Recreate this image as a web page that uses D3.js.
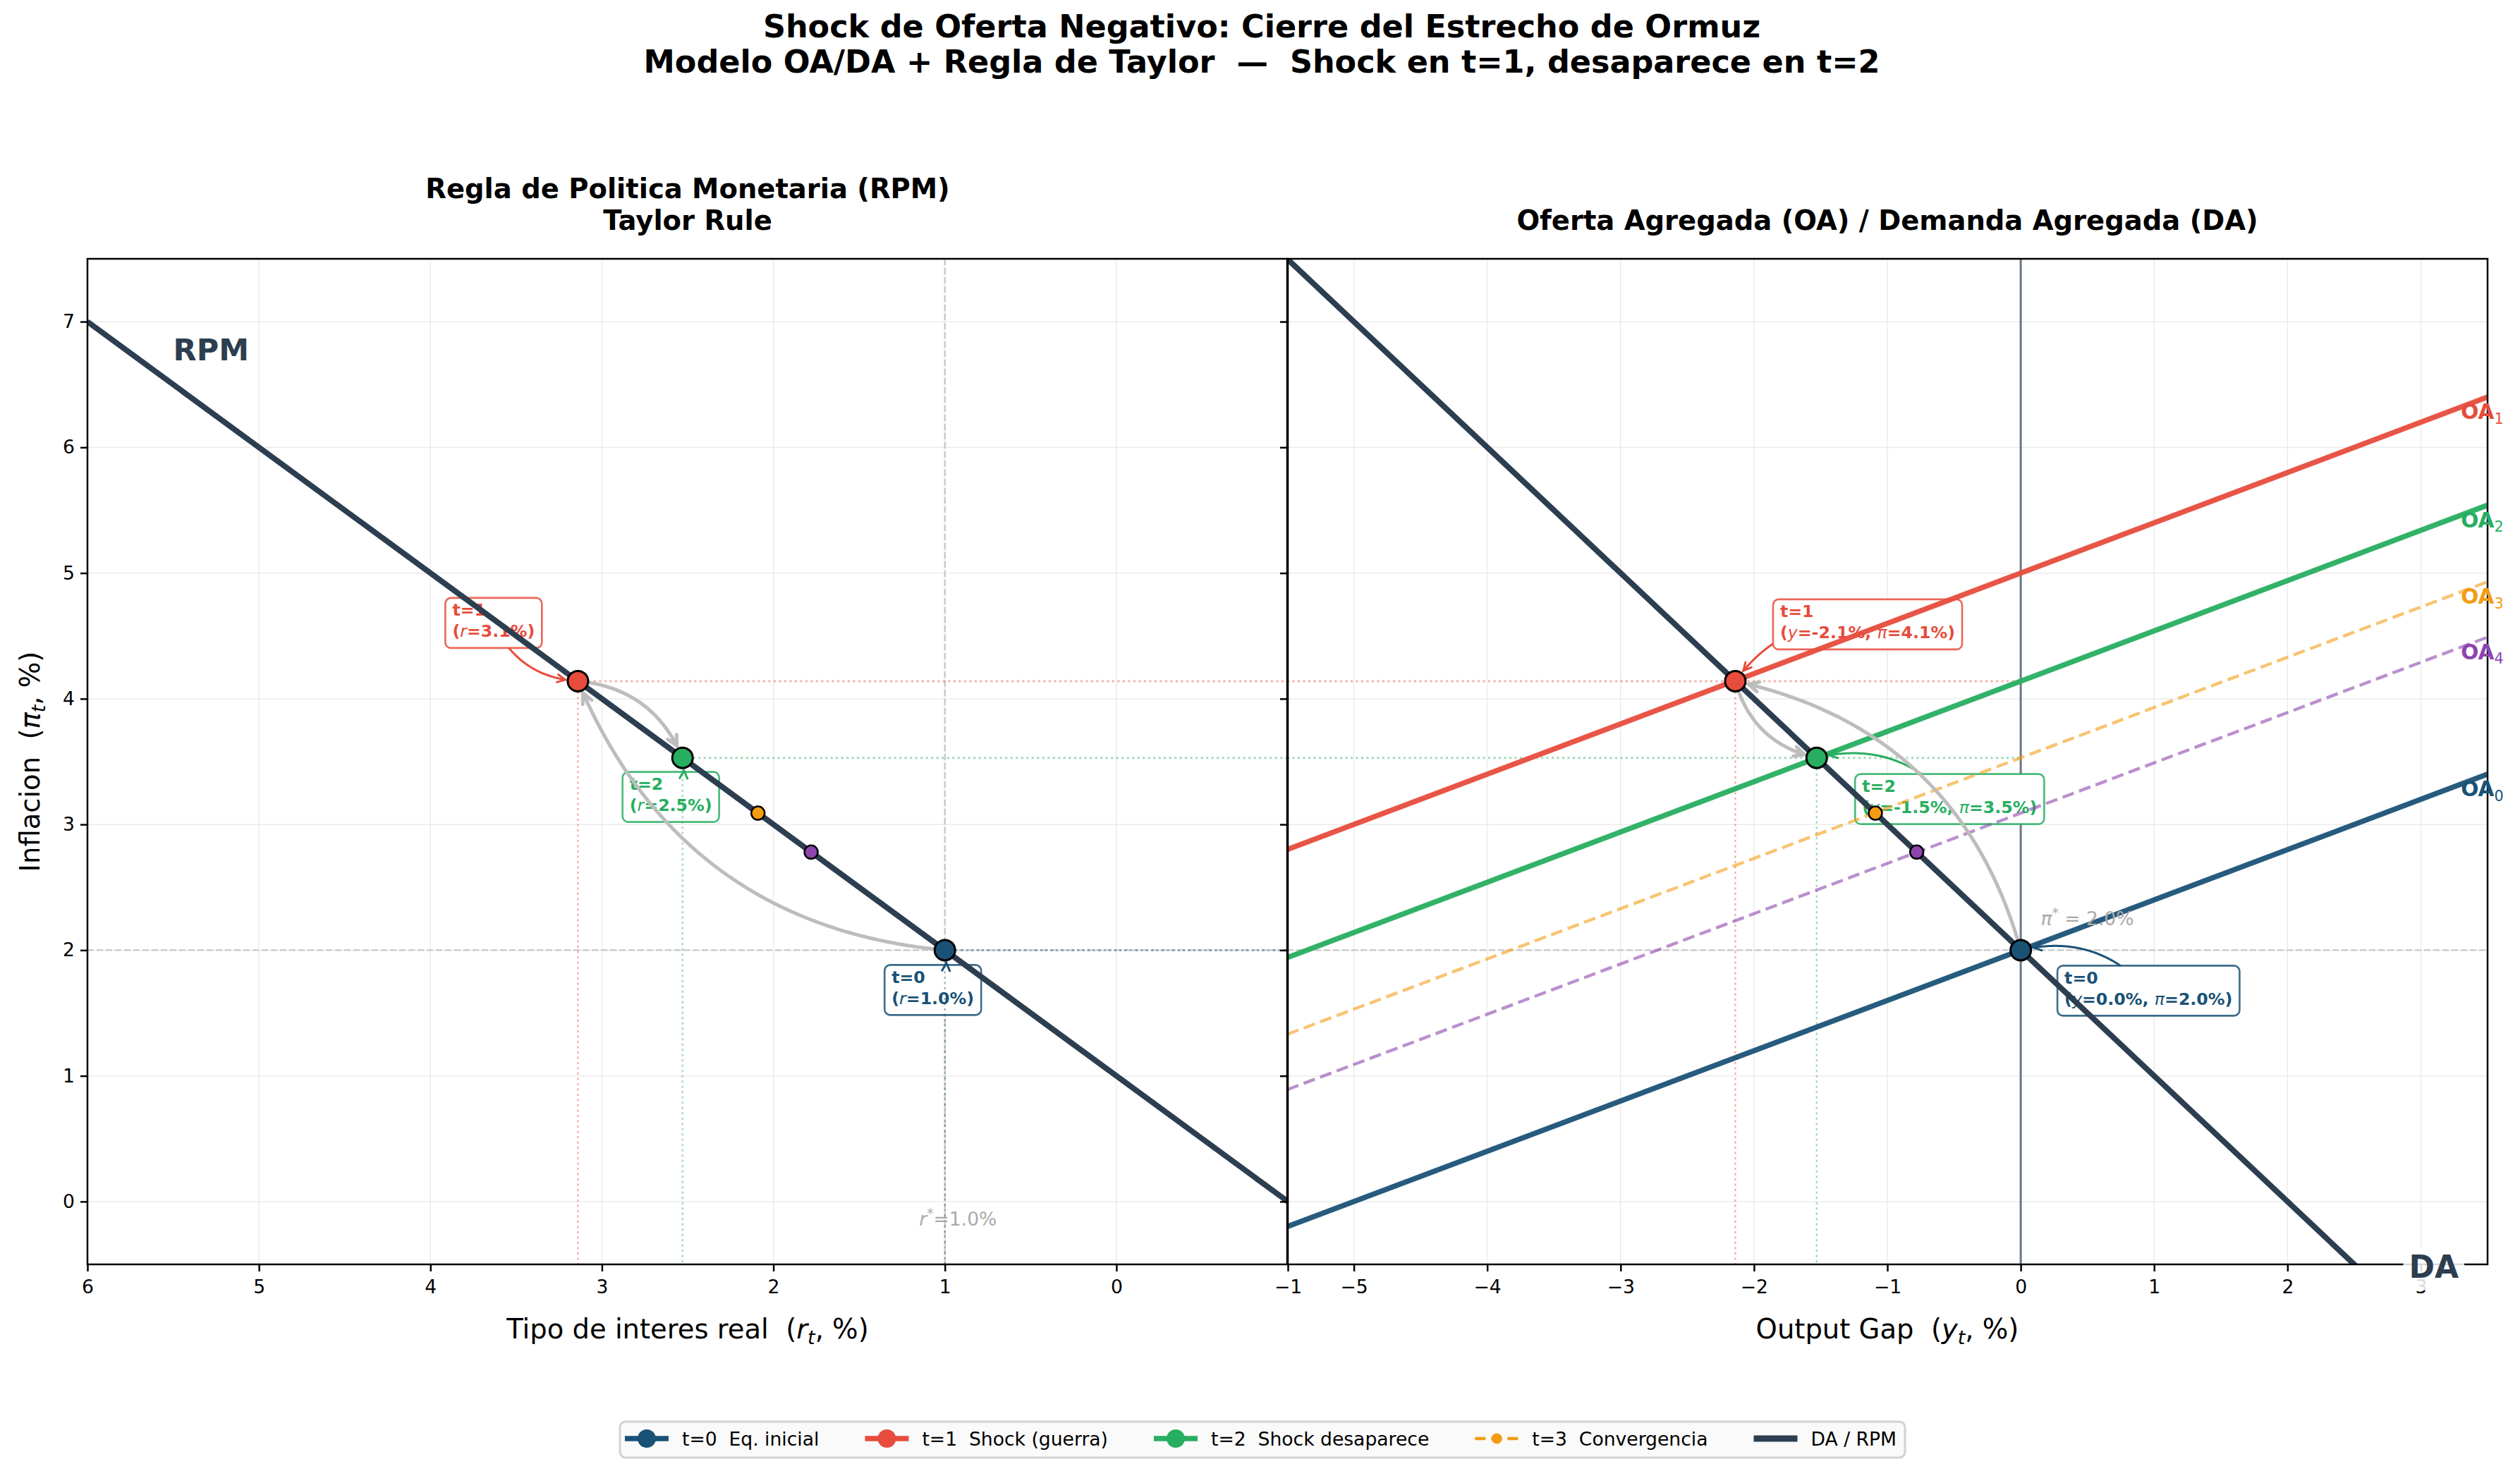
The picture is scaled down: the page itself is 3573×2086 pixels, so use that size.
<!DOCTYPE html>
<html>
<head>
<meta charset="utf-8">
<script src="https://cdn.jsdelivr.net/npm/d3@7"></script>
<style>
  html, body { margin: 0; padding: 0; background: #fff; }
  svg { display: block; font-family: "DejaVu Sans", sans-serif; }
</style>
</head>
<body>
<svg id="chart" width="3573" height="2086"></svg>
<script>
// values
const periods = ["t=0", "t=1", "t=2", "t=3", "t=4"];
const outputGap = [0.0, -2.14, -1.53, -1.09, -0.78];
const inflation = [2.0, 4.14, 3.53, 3.09, 2.78];
const realRate = [1.0, 3.14, 2.53, 2.09, 1.78];
const oaIntercept = [2.0, 5.0, 4.14, 3.53, 3.09];   // OA_t : pi = a_t + 0.4 y
const oaSlope = 0.4;
const daLine = [2.0, -1.0];                         // DA  : pi = 2 - y
const rpmLine = [1.0, 1.0];                         // RPM : pi = 1 + r
const piStar = 2.0;
const rStar = 1.0;
const legendLabels = ["t=0  Eq. inicial", "t=1  Shock (guerra)", "t=2  Shock desaparece", "t=3  Convergencia", "DA / RPM"];
const rTicks = [6, 5, 4, 3, 2, 1, 0, -1];
const yTicks = [-5, -4, -3, -2, -1, 0, 1, 2, 3];
const piTicks = [0, 1, 2, 3, 4, 5, 6, 7];

const colors = ["#1a5276", "#e74c3c", "#27ae60", "#f39c12", "#8e44ad"];
const dark = "#2c3e50";

// keep double spaces visible in svg text
const sp = s => s.replace(/  /g, " \u00a0");

const svg = d3.select("#chart");
svg.append("rect").attr("width", 3573).attr("height", 2086).attr("fill", "#fff");

const xR = d3.scaleLinear().domain([6, -1]).range([124, 1826]);
const xY = d3.scaleLinear().domain([-5.5, 3.5]).range([1825, 3527]);
const yPi = d3.scaleLinear().domain([-0.5, 7.5]).range([1793, 367]);
const line = d3.line();

// text with italic / sub / superscript parts
function rich(sel, parts, size) {
  let shift = 0;
  parts.forEach(p => {
    const target = p.sub ? size * 0.22 : p.sup ? -size * 0.4 : 0;
    const ts = sel.append("tspan").text(sp(p.t));
    if (target !== shift) ts.attr("dy", target - shift);
    shift = target;
    if (p.sub || p.sup) ts.attr("font-size", size * 0.7);
    if (p.i) ts.attr("font-style", "italic");
    if (p.w) ts.attr("font-weight", p.w);
  });
  return sel;
}

// titles
svg.append("text").attr("x", 1789).attr("y", 53).attr("text-anchor", "middle")
  .attr("font-size", 44.5).attr("font-weight", "bold")
  .text("Shock de Oferta Negativo: Cierre del Estrecho de Ormuz");
svg.append("text").attr("x", 1789).attr("y", 103).attr("text-anchor", "middle")
  .attr("font-size", 44.5).attr("font-weight", "bold")
  .text(sp("Modelo OA/DA + Regla de Taylor  \u2014  Shock en t=1, desaparece en t=2"));
svg.append("text").attr("x", 975).attr("y", 281).attr("text-anchor", "middle")
  .attr("font-size", 38.5).attr("font-weight", "bold").text("Regla de Politica Monetaria (RPM)");
svg.append("text").attr("x", 975).attr("y", 326).attr("text-anchor", "middle")
  .attr("font-size", 38.5).attr("font-weight", "bold").text("Taylor Rule");
svg.append("text").attr("x", 2676).attr("y", 326).attr("text-anchor", "middle")
  .attr("font-size", 38.5).attr("font-weight", "bold").text("Oferta Agregada (OA) / Demanda Agregada (DA)");

// clip paths
const defs = svg.append("defs");
defs.append("clipPath").attr("id", "clipL").append("rect")
  .attr("x", 124).attr("y", 367).attr("width", 1702).attr("height", 1426);
defs.append("clipPath").attr("id", "clipR").append("rect")
  .attr("x", 1825).attr("y", 367).attr("width", 1702).attr("height", 1426);

const gL = svg.append("g").attr("clip-path", "url(#clipL)");
const gR = svg.append("g").attr("clip-path", "url(#clipR)");

// grid
function grid(g, x, xt) {
  g.append("g").selectAll("line").data(xt).join("line")
    .attr("x1", d => x(d)).attr("x2", d => x(d)).attr("y1", 367).attr("y2", 1793)
    .attr("stroke", "#ebebeb").attr("stroke-width", 1.5);
  g.append("g").selectAll("line").data(piTicks).join("line")
    .attr("x1", x.range()[0]).attr("x2", x.range()[1]).attr("y1", d => yPi(d)).attr("y2", d => yPi(d))
    .attr("stroke", "#ebebeb").attr("stroke-width", 1.5);
}
grid(gL, xR, rTicks);
grid(gR, xY, yTicks);

// reference lines
gL.append("line").attr("x1", 124).attr("x2", 1826).attr("y1", yPi(piStar)).attr("y2", yPi(piStar))
  .attr("stroke", "#c8c8c8").attr("stroke-width", 2.4).attr("stroke-dasharray", "9 4");
gL.append("line").attr("x1", xR(rStar)).attr("x2", xR(rStar)).attr("y1", 367).attr("y2", 1793)
  .attr("stroke", "#c8c8c8").attr("stroke-width", 2.4).attr("stroke-dasharray", "9 4");
gR.append("line").attr("x1", 1825).attr("x2", 3527).attr("y1", yPi(piStar)).attr("y2", yPi(piStar))
  .attr("stroke", "#c8c8c8").attr("stroke-width", 2.4).attr("stroke-dasharray", "9 4");
gR.append("line").attr("x1", xY(0)).attr("x2", xY(0)).attr("y1", 367).attr("y2", 1793)
  .attr("stroke", "#6b7785").attr("stroke-width", 3);

// quadratic "arc3" path between two screen points
function arcPoints(p1, p2, f) {
  const dx = p2[0] - p1[0], dy = p2[1] - p1[1];
  const c = [(p1[0] + p2[0]) / 2 - f * dy, (p1[1] + p2[1]) / 2 + f * dx];
  return d3.range(0, 1.0001, 0.005).map(t => [
    (1 - t) * (1 - t) * p1[0] + 2 * (1 - t) * t * c[0] + t * t * p2[0],
    (1 - t) * (1 - t) * p1[1] + 2 * (1 - t) * t * c[1] + t * t * p2[1]
  ]);
}
function drawArrow(g, pts, color, width, head) {
  g.append("path").attr("d", line(pts)).attr("fill", "none")
    .attr("stroke", color).attr("stroke-width", width).attr("stroke-linecap", "round");
  const e = pts[pts.length - 1];
  const b = pts[Math.max(0, pts.length - 4)];
  let ux = e[0] - b[0], uy = e[1] - b[1];
  const n = Math.hypot(ux, uy) || 1; ux /= n; uy /= n;
  const L = head[0], W = head[1];
  g.append("path")
    .attr("d", line([[e[0] - L * ux - W * uy, e[1] - L * uy + W * ux], e, [e[0] - L * ux + W * uy, e[1] - L * uy - W * ux]]))
    .attr("fill", "none").attr("stroke", color).attr("stroke-width", width)
    .attr("stroke-linejoin", "miter").attr("stroke-linecap", "round");
}

// annotation boxes (drawn under the curves, as in the reference)
const annFont = 23.7;
const annLeftOffset = [[-85.5, 21], [-188, -118], [-85, 20]];
const annRightOffset = [[52, 22], [53.5, -116], [54.5, 23]];
function annotate(g, px, py, i, off, parts) {
  const bx = px + off[0], by = py + off[1];
  const ag = g.append("g");
  const rect = ag.append("rect");
  const t1 = ag.append("text").attr("x", bx + 10).attr("y", by + 25.5)
    .attr("font-size", annFont).attr("font-weight", "bold").attr("fill", colors[i]).text(periods[i]);
  const t2 = rich(ag.append("text").attr("x", bx + 10).attr("y", by + 55.5)
    .attr("font-size", annFont).attr("font-weight", "bold").attr("fill", colors[i]), parts, annFont);
  const w = Math.max(t1.node().getBBox().width, t2.node().getBBox().width) + 20;
  const h = 71;
  rect.attr("x", bx).attr("y", by).attr("width", w).attr("height", h).attr("rx", 8)
    .attr("fill", "#fff").attr("stroke", colors[i]).attr("stroke-opacity", 0.85).attr("stroke-width", 2.6);
  // arrow from the box to the point
  const pts = arcPoints([bx + w / 2, by + h / 2], [px, py], 0.3)
    .filter(p => !(p[0] > bx && p[0] < bx + w && p[1] > by && p[1] < by + h))
    .filter(p => Math.hypot(p[0] - px, p[1] - py) > 18);
  if (pts.length > 1) drawArrow(g, pts, colors[i], 3, [11, 5.5]);
}
const annL = svg.append("g");
const annR = svg.append("g");
[0, 1, 2].forEach(i => {
  annotate(annL, xR(realRate[i]), yPi(inflation[i]), i, annLeftOffset[i],
    [{ t: "(" }, { t: "r", i: true, w: "normal" }, { t: "=" + realRate[i].toFixed(1) + "%)" }]);
  annotate(annR, xY(outputGap[i]), yPi(inflation[i]), i, annRightOffset[i],
    [{ t: "(" }, { t: "y", i: true, w: "normal" }, { t: "=" + outputGap[i].toFixed(1) + "%, " },
     { t: "\u03c0", i: true, w: "normal" }, { t: "=" + inflation[i].toFixed(1) + "%)" }]);
});

const gL2 = svg.append("g").attr("clip-path", "url(#clipL)");
const gR2 = svg.append("g").attr("clip-path", "url(#clipR)");

// dotted guide lines
[0, 1, 2].forEach(i => {
  const px = xR(realRate[i]), py = yPi(inflation[i]);
  gL2.append("line").attr("x1", px).attr("x2", xR(-1)).attr("y1", py).attr("y2", py)
    .attr("stroke", colors[i]).attr("stroke-opacity", 0.45).attr("stroke-width", 3).attr("stroke-dasharray", "3 4.5");
  gL2.append("line").attr("x1", px).attr("x2", px).attr("y1", py).attr("y2", 1793)
    .attr("stroke", colors[i]).attr("stroke-opacity", 0.45).attr("stroke-width", 2.4).attr("stroke-dasharray", "3 4.5");
});
[1, 2].forEach(i => {
  const px = xY(outputGap[i]), py = yPi(inflation[i]);
  gR2.append("line").attr("x1", 1825).attr("x2", xY(0)).attr("y1", py).attr("y2", py)
    .attr("stroke", colors[i]).attr("stroke-opacity", 0.45).attr("stroke-width", 3).attr("stroke-dasharray", "3 4.5");
  gR2.append("line").attr("x1", px).attr("x2", px).attr("y1", py).attr("y2", 1793)
    .attr("stroke", colors[i]).attr("stroke-opacity", 0.45).attr("stroke-width", 2.4).attr("stroke-dasharray", "3 4.5");
});

// OA curves
const yDom = xY.domain();
oaIntercept.forEach((a, i) => {
  const pts = yDom.map(v => [xY(v), yPi(a + oaSlope * v)]);
  const dashed = i >= 3;
  gR2.append("path").attr("d", line(pts)).attr("fill", "none")
    .attr("stroke", colors[i]).attr("stroke-width", dashed ? 4.4 : 7.5)
    .attr("stroke-opacity", dashed ? 0.6 : 0.95)
    .attr("stroke-dasharray", dashed ? "17 8" : null);
});
// DA and RPM
gR2.append("path").attr("d", line(yDom.map(v => [xY(v), yPi(daLine[0] + daLine[1] * v)])))
  .attr("fill", "none").attr("stroke", dark).attr("stroke-width", 8);
gL2.append("path").attr("d", line(xR.domain().map(v => [xR(v), yPi(rpmLine[0] + rpmLine[1] * v)])))
  .attr("fill", "none").attr("stroke", dark).attr("stroke-width", 8);

// grey transition arcs t0->t1, t1->t2
[[0, 1], [1, 2]].forEach(([a, b]) => {
  const pL = arcPoints([xR(realRate[a]), yPi(inflation[a])], [xR(realRate[b]), yPi(inflation[b])], -0.3)
    .filter(p => Math.hypot(p[0] - xR(realRate[b]), p[1] - yPi(inflation[b])) > 18);
  drawArrow(gL2, pL, "#bdbdbd", 5, [14, 7]);
  const pR = arcPoints([xY(outputGap[a]), yPi(inflation[a])], [xY(outputGap[b]), yPi(inflation[b])], 0.3)
    .filter(p => Math.hypot(p[0] - xY(outputGap[b]), p[1] - yPi(inflation[b])) > 18);
  drawArrow(gR2, pR, "#bdbdbd", 5, [14, 7]);
});

// equilibrium points
function points(g, xs, x) {
  g.append("g").selectAll("circle").data(periods).join("circle")
    .attr("cx", (d, i) => x(xs[i])).attr("cy", (d, i) => yPi(inflation[i]))
    .attr("r", (d, i) => i < 3 ? 14.5 : 9.5)
    .attr("fill", (d, i) => colors[i]).attr("stroke", "#000").attr("stroke-width", (d, i) => i < 3 ? 3 : 2.5);
}
points(svg, realRate, xR);
points(svg, outputGap, xY);

// axes
function styleAxis(g) {
  g.attr("font-size", 26.6).attr("font-family", "DejaVu Sans");
  g.select(".domain").remove();
  g.selectAll(".tick line").attr("stroke", "#000").attr("stroke-width", 2.5);
  g.selectAll(".tick text").attr("fill", "#000");
}
svg.append("g").attr("transform", "translate(0,1793)")
  .call(d3.axisBottom(xR).tickValues(rTicks).tickSize(10).tickPadding(12).tickFormat(d3.format("d"))).call(styleAxis);
svg.append("g").attr("transform", "translate(0,1793)")
  .call(d3.axisBottom(xY).tickValues(yTicks).tickSize(10).tickPadding(12).tickFormat(d3.format("d"))).call(styleAxis);
svg.append("g").attr("transform", "translate(124,0)")
  .call(d3.axisLeft(yPi).tickValues(piTicks).tickSize(10).tickPadding(8).tickFormat(d3.format("d"))).call(styleAxis);
svg.append("g").attr("transform", "translate(1825,0)")
  .call(d3.axisLeft(yPi).tickValues(piTicks).tickSize(10).tickFormat("")).call(styleAxis);

svg.append("rect").attr("x", 124).attr("y", 367).attr("width", 1702).attr("height", 1426)
  .attr("fill", "none").attr("stroke", "#000").attr("stroke-width", 2.5);
svg.append("rect").attr("x", 1825).attr("y", 367).attr("width", 1702).attr("height", 1426)
  .attr("fill", "none").attr("stroke", "#000").attr("stroke-width", 2.5);

// axis labels
rich(svg.append("text").attr("x", 975).attr("y", 1898).attr("text-anchor", "middle").attr("font-size", 38.5),
  [{ t: "Tipo de interes real  (" }, { t: "r", i: true }, { t: "t", i: true, sub: true }, { t: ", %)" }], 38.5);
rich(svg.append("text").attr("x", 2676).attr("y", 1898).attr("text-anchor", "middle").attr("font-size", 38.5),
  [{ t: "Output Gap  (" }, { t: "y", i: true }, { t: "t", i: true, sub: true }, { t: ", %)" }], 38.5);
rich(svg.append("text").attr("transform", "translate(56,1080) rotate(-90)").attr("text-anchor", "middle").attr("font-size", 38.5),
  [{ t: "Inflacion  (" }, { t: "\u03c0", i: true }, { t: "t", i: true, sub: true }, { t: ", %)" }], 38.5);

// curve labels
svg.append("text").attr("x", xR(5.5)).attr("y", yPi(6.69)).attr("font-size", 43).attr("font-weight", "bold")
  .attr("fill", dark).text("RPM");
oaIntercept.forEach((a, i) => {
  rich(svg.append("text").attr("x", xY(3.3)).attr("y", yPi(a + oaSlope * 3.5 - 0.115) + 10.8)
    .attr("font-size", 29.6).attr("font-weight", "bold").attr("fill", colors[i]),
    [{ t: "OA" }, { t: String(i), sub: true, w: "normal" }], 29.6);
});
const daG = svg.append("g");
const daBox = daG.append("rect");
const daText = daG.append("text").attr("x", xY(2.91)).attr("y", yPi(-0.606)).attr("font-size", 44)
  .attr("font-weight", "bold").attr("fill", dark).text("DA");
const bb = daText.node().getBBox();
daBox.attr("x", bb.x - 8).attr("y", bb.y - 2).attr("width", bb.width + 16).attr("height", bb.height + 10)
  .attr("fill", "#fff").attr("fill-opacity", 0.85);

rich(svg.append("text").attr("x", xY(0.15)).attr("y", yPi(2.2)).attr("font-size", 26.6).attr("fill", "#aaa"),
  [{ t: "\u03c0", i: true }, { t: "*", sup: true }, { t: " = " + piStar.toFixed(1) + "%" }], 26.6);
rich(svg.append("text").attr("x", xR(1.15)).attr("y", yPi(-0.19)).attr("font-size", 26.6).attr("fill", "#aaa"),
  [{ t: "r", i: true }, { t: "*", sup: true }, { t: "=" + rStar.toFixed(1) + "%" }], 26.6);

// legend
const leg = svg.append("g");
const legBox = leg.append("rect");
const legGap = 65;
let lx = 0;
const legItems = legendLabels.map((lab, i) => {
  const it = leg.append("g");
  const col = i < 4 ? colors[i] : dark;
  if (i < 3) {
    it.append("line").attr("x1", 0).attr("x2", 62).attr("stroke", col).attr("stroke-width", 7.5);
    it.append("circle").attr("cx", 31).attr("r", 13).attr("fill", col);
  } else if (i === 3) {
    it.append("line").attr("x1", 0).attr("x2", 62).attr("stroke", col).attr("stroke-width", 4.4)
      .attr("stroke-dasharray", "15 8");
    it.append("circle").attr("cx", 31).attr("r", 7.5).attr("fill", col);
  } else {
    it.append("line").attr("x1", 0).attr("x2", 62).attr("stroke", col).attr("stroke-width", 9);
  }
  const t = it.append("text").attr("x", 81).attr("y", 10).attr("font-size", 26.6).text(sp(lab));
  const w = 81 + t.node().getComputedTextLength();
  const out = { g: it, x: lx };
  lx += w + legGap;
  return out;
});
const legW = 7 + (lx - legGap) + 12;
const legX0 = 1790 - legW / 2;
legItems.forEach(d => d.g.attr("transform", `translate(${legX0 + 7 + d.x},2040)`));
legBox.attr("x", legX0).attr("y", 2016).attr("width", legW).attr("height", 51).attr("rx", 8)
  .attr("fill", "#fafafa").attr("stroke", "#cfd3d6").attr("stroke-width", 3);
</script>
</body>
</html>
